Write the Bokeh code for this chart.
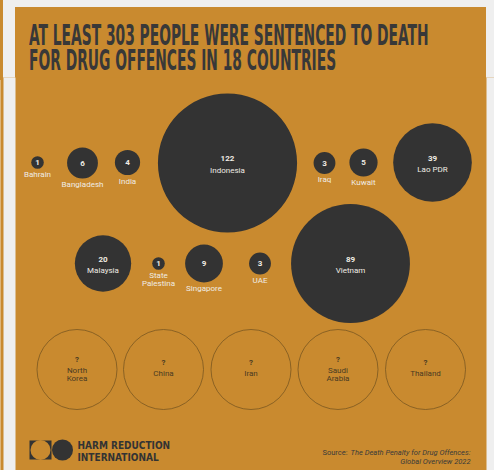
import math
from bokeh.plotting import figure
from bokeh.models import Range1d, Div
from bokeh.layouts import column
from bokeh.core.properties import value
from bokeh.embed import file_html
from bokeh.resources import INLINE

# ---- data ----
countries = ["Bahrain", "Bangladesh", "India", "Indonesia", "Iraq", "Kuwait", "Lao PDR",
             "Malaysia", "State\nPalestina", "Singapore", "UAE", "Vietnam"]
sentenced = [1, 6, 4, 122, 3, 5, 39, 20, 1, 9, 3, 89]
unknown_countries = ["North\nKorea", "China", "Iran", "Saudi\nArabia", "Thailand"]
title_lines = ["AT LEAST 303 PEOPLE WERE SENTENCED TO DEATH", "FOR DRUG OFFENCES IN 18 COUNTRIES"]
org_lines = ["HARM REDUCTION", "INTERNATIONAL"]
source_lines = ["Source:", "The Death Penalty for Drug Offences:", "Global Overview 2022"]

# ---- layout (screen-pixel coordinates) ----
cx = [37, 82, 127, 227, 324, 363, 432, 102.5, 158, 203.5, 259.5, 350]
cy = [162, 162.5, 162, 162.5, 162.5, 162, 162, 263, 263, 263, 263, 263]
ucx = [76.5, 163, 250.5, 337.5, 425]
ucy = 369
SCALE = 6.3  # px radius per sqrt(person)

ORANGE = "#c98a2f"
GRAY = "#efefef"
DARK = "#333333"
LIGHT = "#f0ece4"
BROWN = "#4a3a22"
TITLE_COLOR = "#383838"

W, H = 494, 470
HEAD = 80     # height of the title band
OVERLAP = 3   # figure slides up over the band to hide any seam

# ---- title band (HTML so the condensed lettering can be stretched) ----
def title_line(txt, top, sx):
    return (f'<div style="position:absolute;left:29px;top:{top}px;height:22px;white-space:nowrap;'
            f"font-family:'DejaVu Sans Condensed','DejaVu Sans';font-weight:bold;font-size:29px;"
            f'line-height:22px;color:{TITLE_COLOR};transform:scaleX({sx});transform-origin:0 0;">'
            f'{txt}</div>')

head_html = (
    f'<div style="position:relative;width:{W}px;height:{HEAD}px;background:{GRAY};overflow:hidden;">'
    f'<div style="position:absolute;left:0;top:0;width:3px;height:{HEAD + 4}px;background:{ORANGE};"></div>'
    f'<div style="position:absolute;left:15px;top:7px;width:471px;height:{HEAD}px;background:{ORANGE};"></div>'
    + title_line(title_lines[0], 24, 0.53) + title_line(title_lines[1], 49, 0.53) +
    '</div>'
)
head = Div(text=head_html, width=W, height=HEAD, margin=(0, 0, 0, 0), styles={"overflow": "hidden"})

# ---- main figure ----
top_y = HEAD - OVERLAP
p = figure(width=W, height=H - top_y, output_backend="svg", toolbar_location=None,
           x_range=Range1d(0, W), y_range=Range1d(H, top_y), min_border=0,
           margin=(-OVERLAP, 0, 0, 0))
p.axis.visible = False
p.grid.visible = False
p.outline_line_color = None
p.background_fill_color = ORANGE
p.border_fill_color = ORANGE

p.quad(left=[-5, 3, 486], right=[0, 15, W + 5], top=[top_y - 5] * 3, bottom=[H + 5] * 3,
       fill_color=[ORANGE, GRAY, GRAY], line_color=None)

LBL_FONT = value("Roboto")
COND_FONT = value("DejaVu Sans Condensed")

# known circles
radii = [SCALE * math.sqrt(v) for v in sentenced]
p.circle(x=cx, y=cy, radius=radii, fill_color=DARK, line_color=None)

num_x, num_y, num_t = [], [], []
lab_x, lab_y, lab_t = [], [], []
for name, v, x, y, r in zip(countries, sentenced, cx, cy, radii):
    if r > 22:
        num_x.append(x); num_y.append(y - 4.5); num_t.append(str(v))
        lab_x.append(x); lab_y.append(y + 7); lab_t.append(name)
    else:
        num_x.append(x); num_y.append(y); num_t.append(str(v))
        for i, line in enumerate(name.split("\n")):
            lab_x.append(x); lab_y.append(y + r + 6 + 8 * i); lab_t.append(line)

p.text(x=num_x, y=num_y, text=num_t, text_font=LBL_FONT, text_font_style="bold",
       text_font_size="8px", text_color=LIGHT, text_align="center", text_baseline="middle")
p.text(x=lab_x, y=lab_y, text=lab_t, text_font=LBL_FONT,
       text_font_size="8px", text_color=LIGHT, text_align="center", text_baseline="middle")

# unknown circles
p.circle(x=ucx, y=[ucy] * len(ucx), radius=40, fill_color=None, line_color="#7a5720",
         line_width=1, line_alpha=0.8)
q_x, q_y, ul_x, ul_y, ul_t = [], [], [], [], []
for name, x in zip(unknown_countries, ucx):
    lines = name.split("\n")
    if len(lines) == 1:
        q_x.append(x); q_y.append(ucy - 7.5)
        ul_x.append(x); ul_y.append(ucy + 4); ul_t.append(lines[0])
    else:
        q_x.append(x); q_y.append(ucy - 10)
        for i, line in enumerate(lines):
            ul_x.append(x); ul_y.append(ucy + 1 + 8 * i); ul_t.append(line)
p.text(x=q_x, y=q_y, text=["?"] * len(q_x), text_font=LBL_FONT, text_font_style="bold",
       text_font_size="8px", text_color=BROWN, text_align="center", text_baseline="middle")
p.text(x=ul_x, y=ul_y, text=ul_t, text_font=LBL_FONT,
       text_font_size="8px", text_color=BROWN, text_align="center", text_baseline="middle")

# logo
p.quad(left=[29], right=[51], top=[440], bottom=[459], fill_color=DARK, line_color=None)
p.circle(x=[40], y=[449.5], radius=10, fill_color=ORANGE, line_color=None)
p.circle(x=[62], y=[449.5], radius=10.5, fill_color=DARK, line_color=None)
p.text(x=[77, 77], y=[445, 456.5], text=org_lines, text_font=COND_FONT,
       text_font_style="bold", text_font_size="10px", text_color=DARK,
       text_align="left", text_baseline="middle")

# source
p.text(x=[347], y=[452], text=[source_lines[0]], text_font=LBL_FONT, text_font_size="7.5px",
       text_color="#3a3a3a", text_align="right", text_baseline="middle")
p.text(x=[470, 470], y=[452, 461], text=source_lines[1:], text_font=LBL_FONT,
       text_font_style="italic", text_font_size="7.5px", text_color="#3a3a3a",
       text_align="right", text_baseline="middle")

layout = column(head, p, spacing=0, margin=(0, 0, 0, 0))
open("out.html", "w").write(file_html(layout, INLINE))
